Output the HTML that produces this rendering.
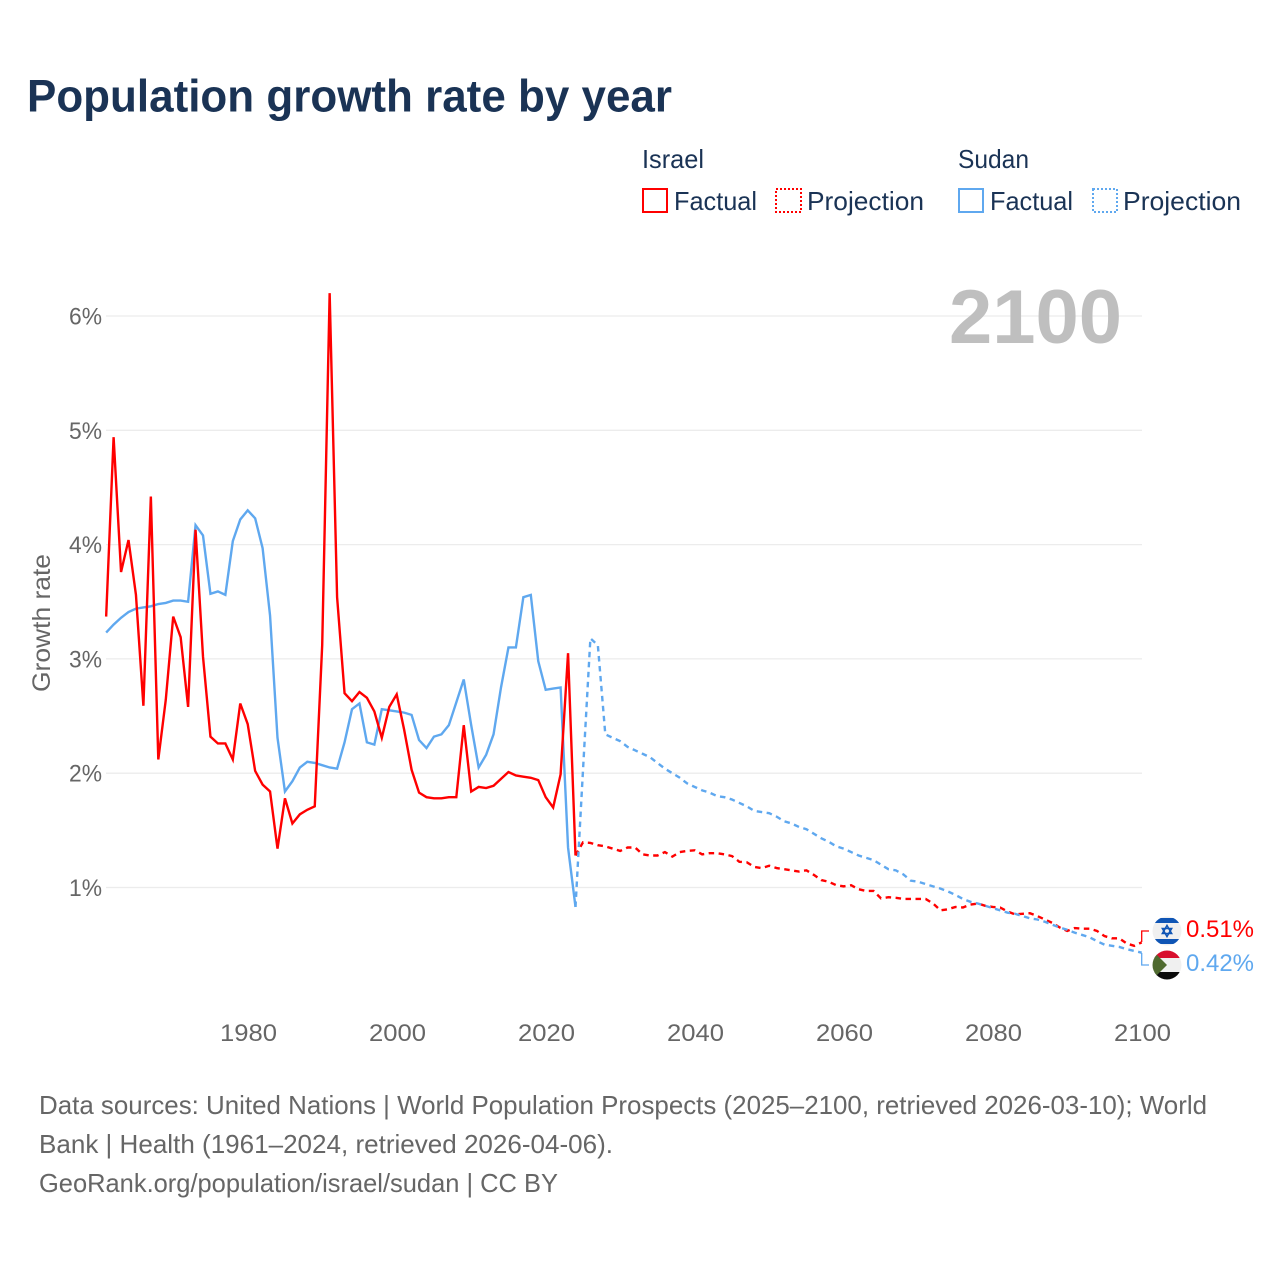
<!DOCTYPE html>
<html lang="en">
<head>
<meta charset="utf-8">
<title>Population growth rate by year</title>
<style>
html,body{margin:0;padding:0;background:#fff;width:1280px;height:1280px;overflow:hidden}
svg{display:block}
text{font-family:"Liberation Sans",sans-serif}
</style>
</head>
<body>
<svg id="chart" xmlns="http://www.w3.org/2000/svg" width="1280" height="1280" viewBox="0 0 1280 1280">
  <defs>
    <clipPath id="flag-clip-il"><circle cx="1167" cy="931" r="14.5"/></clipPath>
    <clipPath id="flag-clip-sd"><circle cx="1167" cy="965" r="14.5"/></clipPath>
  </defs>
  <rect x="0" y="0" width="1280" height="1280" fill="#fff"/>

  <text x="27" y="111.5" font-size="45" font-weight="700" fill="#1a3355" textLength="645" lengthAdjust="spacingAndGlyphs">Population growth rate by year</text>

  <g font-size="26" fill="#1a3355">
    <text x="642" y="168" textLength="62" lengthAdjust="spacingAndGlyphs">Israel</text>
    <text x="958" y="168" textLength="71" lengthAdjust="spacingAndGlyphs">Sudan</text>
    <g>
      <rect x="643" y="189" width="24" height="23" fill="none" stroke="#ff0000" stroke-width="2"/>
      <text x="674" y="210" textLength="83" lengthAdjust="spacingAndGlyphs">Factual</text>
    </g>
    <g>
      <rect x="776" y="189" width="25" height="23" fill="none" stroke="#ff0000" stroke-width="2" stroke-dasharray="2 2"/>
      <text x="807" y="210" textLength="117" lengthAdjust="spacingAndGlyphs">Projection</text>
    </g>
    <g>
      <rect x="959" y="189" width="24" height="23" fill="none" stroke="#5fa8ef" stroke-width="2"/>
      <text x="990" y="210" textLength="83" lengthAdjust="spacingAndGlyphs">Factual</text>
    </g>
    <g>
      <rect x="1093" y="189" width="24" height="23" fill="none" stroke="#5fa8ef" stroke-width="2" stroke-dasharray="2 2"/>
      <text x="1123" y="210" textLength="118" lengthAdjust="spacingAndGlyphs">Projection</text>
    </g>
  </g>

  <g id="grid"></g>
  <g id="y-ticks"></g>
  <g id="x-ticks"></g>

  <text x="0" y="0" transform="translate(50,692) rotate(-90)" font-size="25" fill="#666" textLength="138" lengthAdjust="spacingAndGlyphs">Growth rate</text>

  <text x="1122" y="343" text-anchor="end" font-size="76" font-weight="700" fill="#bfbfbf" textLength="173" lengthAdjust="spacingAndGlyphs">2100</text>

  <g id="series"></g>

  <g>
    <polyline points="1141.7,942 1141.7,931 1149,931" fill="none" stroke="#ff0000" stroke-width="1.3"/>
    <polyline points="1141.7,953 1141.7,965 1149,965" fill="none" stroke="#5fa8ef" stroke-width="1.3"/>

    <g clip-path="url(#flag-clip-il)">
      <rect x="1152" y="916" width="30" height="30" fill="#f0f0f0"/>
      <rect x="1152" y="918" width="30" height="5" fill="#0f55b5"/>
      <rect x="1152" y="939" width="30" height="5" fill="#0f55b5"/>
      <polygon points="1167,925.5 1171.6,933.5 1162.4,933.5" fill="none" stroke="#0f55b5" stroke-width="1.6"/>
      <polygon points="1167,936.5 1171.6,928.5 1162.4,928.5" fill="none" stroke="#0f55b5" stroke-width="1.6"/>
    </g>
    <g clip-path="url(#flag-clip-sd)">
      <rect x="1152" y="950" width="30" height="8" fill="#d80f2e"/>
      <rect x="1152" y="958" width="30" height="14" fill="#f0f0f0"/>
      <rect x="1152" y="972" width="30" height="8" fill="#0a0a0a"/>
      <polygon points="1152,950 1167,965 1152,980" fill="#4f6a2f"/>
    </g>

    <text x="1186" y="937" font-size="24.5" fill="#ff0000" textLength="68" lengthAdjust="spacingAndGlyphs">0.51%</text>
    <text x="1186" y="971" font-size="24.5" fill="#5fa8ef" textLength="68" lengthAdjust="spacingAndGlyphs">0.42%</text>
  </g>

  <g font-size="26" fill="#666">
    <text x="39" y="1114" textLength="1168" lengthAdjust="spacingAndGlyphs">Data sources: United Nations | World Population Prospects (2025–2100, retrieved 2026-03-10); World</text>
    <text x="39" y="1153" textLength="574" lengthAdjust="spacingAndGlyphs">Bank | Health (1961–2024, retrieved 2026-04-06).</text>
    <text x="39" y="1192" textLength="519" lengthAdjust="spacingAndGlyphs">GeoRank.org/population/israel/sudan | CC BY</text>
  </g>
</svg>

<script>
const yTickValues = [1, 2, 3, 4, 5, 6];
const yTickLabels = ["1%", "2%", "3%", "4%", "5%", "6%"];
const xTickYears = [1980, 2000, 2020, 2040, 2060, 2080, 2100];
const factualStartYear = 1961;
const projectionStartYear = 2024;

const israelFactual = [
  3.37, 4.94, 3.76, 4.04, 3.56, 2.59, 4.42, 2.12, 2.64, 3.37,
  3.19, 2.58, 4.13, 3.02, 2.32, 2.26, 2.26, 2.12, 2.61, 2.43,
  2.02, 1.90, 1.84, 1.34, 1.78, 1.56, 1.64, 1.68, 1.71, 3.12,
  6.20, 3.54, 2.70, 2.63, 2.71, 2.66, 2.54, 2.31, 2.58, 2.69,
  2.38, 2.03, 1.83, 1.79, 1.78, 1.78, 1.79, 1.79, 2.42, 1.84,
  1.88, 1.87, 1.89, 1.95, 2.01, 1.98, 1.97, 1.96, 1.94, 1.79,
  1.70, 1.99, 3.05, 1.28
];
const sudanFactual = [
  3.23, 3.30, 3.36, 3.41, 3.44, 3.45, 3.46, 3.48, 3.49, 3.51,
  3.51, 3.50, 4.17, 4.08, 3.57, 3.59, 3.56, 4.03, 4.22, 4.30,
  4.23, 3.97, 3.38, 2.31, 1.84, 1.93, 2.05, 2.10, 2.09, 2.07,
  2.05, 2.04, 2.27, 2.56, 2.61, 2.27, 2.25, 2.56, 2.55, 2.54,
  2.53, 2.51, 2.29, 2.22, 2.32, 2.34, 2.42, 2.62, 2.82, 2.42,
  2.05, 2.16, 2.34, 2.75, 3.10, 3.10, 3.54, 3.56, 2.98, 2.73,
  2.74, 2.75, 1.35, 0.83
];
const israelProjection = [
  1.28, 1.395, 1.39, 1.37, 1.36, 1.34, 1.32, 1.35, 1.35, 1.29,
  1.28, 1.28, 1.31, 1.27, 1.31, 1.32, 1.325, 1.29, 1.30, 1.30,
  1.29, 1.275, 1.225, 1.22, 1.18, 1.17, 1.19, 1.17, 1.16, 1.15,
  1.14, 1.15, 1.11, 1.065, 1.05, 1.02, 1.01, 1.02, 0.985, 0.97,
  0.97, 0.905, 0.915, 0.91, 0.90, 0.90, 0.90, 0.90, 0.86, 0.80,
  0.81, 0.83, 0.825, 0.85, 0.86, 0.84, 0.83, 0.825, 0.79, 0.765,
  0.77, 0.775, 0.75, 0.72, 0.69, 0.65, 0.62, 0.645, 0.64, 0.64,
  0.62, 0.575, 0.555, 0.555, 0.51, 0.49, 0.52
];
const sudanProjection = [
  0.83, 2.02, 3.18, 3.12, 2.34, 2.31, 2.28, 2.23, 2.20, 2.17,
  2.14, 2.09, 2.04, 2.00, 1.96, 1.91, 1.88, 1.85, 1.83, 1.80,
  1.79, 1.77, 1.74, 1.71, 1.67, 1.66, 1.65, 1.62, 1.58, 1.56,
  1.53, 1.51, 1.47, 1.43, 1.40, 1.36, 1.34, 1.31, 1.28, 1.26,
  1.24, 1.20, 1.16, 1.15, 1.115, 1.06, 1.05, 1.03, 1.01, 0.99,
  0.965, 0.935, 0.90, 0.875, 0.86, 0.84, 0.82, 0.80, 0.78, 0.77,
  0.75, 0.73, 0.72, 0.70, 0.675, 0.65, 0.63, 0.605, 0.585, 0.565,
  0.53, 0.50, 0.49, 0.48, 0.46, 0.445, 0.43
];

const SVGNS = "http://www.w3.org/2000/svg";
const xScale = year => 247.7 + (year - 1980) * 7.45;
const yScale = value => 1001.8 - value * 114.3;
const plotLeft = 106;
const plotRight = 1142;

function linePath(values, startYear) {
  return values.map((v, i) => (i ? "L" : "M") + xScale(startYear + i).toFixed(2) + " " + yScale(v).toFixed(2)).join(" ");
}

const gridGroup = document.getElementById("grid");
const yTickGroup = document.getElementById("y-ticks");
const xTickGroup = document.getElementById("x-ticks");
const seriesGroup = document.getElementById("series");

yTickValues.forEach((v, i) => {
  const line = document.createElementNS(SVGNS, "line");
  line.setAttribute("x1", plotLeft);
  line.setAttribute("x2", plotRight);
  line.setAttribute("y1", yScale(v));
  line.setAttribute("y2", yScale(v));
  line.setAttribute("stroke", "#ececec");
  line.setAttribute("stroke-width", "1.3");
  
  
  gridGroup.appendChild(line);

  const label = document.createElementNS(SVGNS, "text");
  label.setAttribute("x", 102);
  label.setAttribute("y", yScale(v) + 8.5);
  label.setAttribute("text-anchor", "end");
  label.setAttribute("font-size", "24");
  label.setAttribute("fill", "#666");
  label.setAttribute("textLength", "33");
  label.setAttribute("lengthAdjust", "spacingAndGlyphs");
  label.textContent = yTickLabels[i];
  
  
  yTickGroup.appendChild(label);
});

xTickYears.forEach(year => {
  const label = document.createElementNS(SVGNS, "text");
  label.setAttribute("x", xScale(year) + 0.8);
  label.setAttribute("y", 1041);
  label.setAttribute("text-anchor", "middle");
  label.setAttribute("font-size", "24.5");
  label.setAttribute("fill", "#666");
  label.setAttribute("textLength", "57");
  label.setAttribute("lengthAdjust", "spacingAndGlyphs");
  label.textContent = String(year);
  
  
  xTickGroup.appendChild(label);
});

function addSeries(values, startYear, color, dashed, name) {
  const path = document.createElementNS(SVGNS, "path");
  path.setAttribute("d", linePath(values, startYear));
  path.setAttribute("fill", "none");
  path.setAttribute("stroke", color);
  path.setAttribute("stroke-width", "2.4");
  if (dashed) path.setAttribute("stroke-dasharray", "5.5 4.5");
  
  
  seriesGroup.appendChild(path);
}

addSeries(sudanFactual, factualStartYear, "#5fa8ef", false, "sudan-factual-line");
addSeries(israelFactual, factualStartYear, "#ff0000", false, "israel-factual-line");
addSeries(israelProjection, projectionStartYear, "#ff0000", true, "israel-projection-line");
addSeries(sudanProjection, projectionStartYear, "#5fa8ef", true, "sudan-projection-line");
</script>
</body>
</html>
